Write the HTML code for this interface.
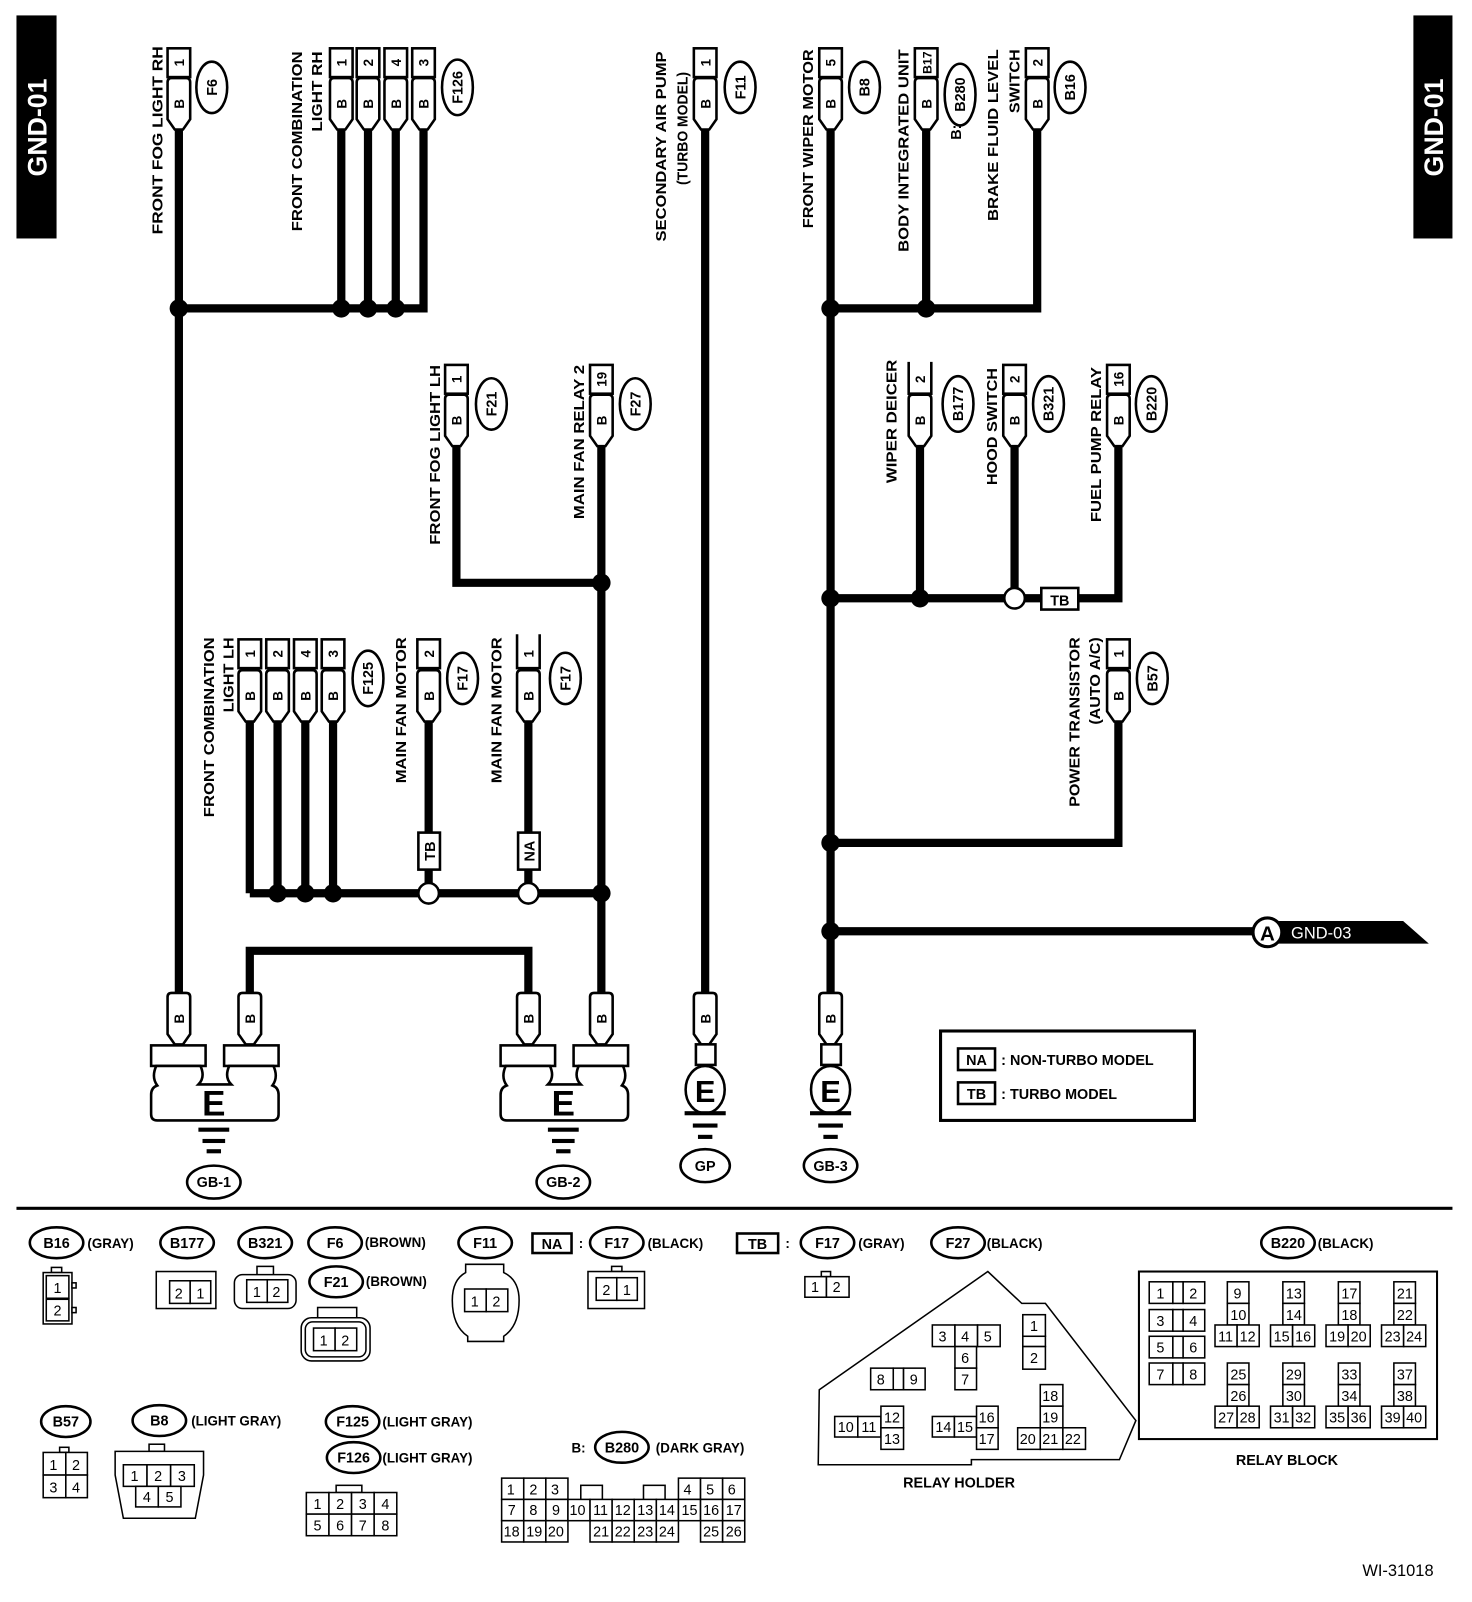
<!DOCTYPE html>
<html><head><meta charset="utf-8"><style>
html,body{margin:0;padding:0;background:#fff}
svg{display:block}
text{font-family:"Liberation Sans",Arial,sans-serif;font-weight:bold;fill:#000}
.w{fill:none;stroke:#000;stroke-width:8}
.o{fill:#fff;stroke:#000;stroke-width:2.5}
.t{fill:#fff;stroke:#000;stroke-width:1.5}
.c text{font-weight:normal;font-size:14px}
</style></head><body>
<svg width="1472" height="1602" viewBox="0 0 1432 1558.5" xmlns="http://www.w3.org/2000/svg">
<defs>
<path id="bc" d="M-11,4 Q-11,0 -7,0 H7 Q11,0 11,4 V40 L4,50 H-4 L-11,40 Z" fill="#fff" stroke="#000" stroke-width="2.5"/>
</defs>
<!-- GND-01 boxes -->
<rect x="16" y="15" width="39" height="217" fill="#000"/>
<text transform="translate(45,124) rotate(-90)" text-anchor="middle" font-size="26" style="fill:#fff">GND-01</text>
<rect x="1375" y="15" width="38" height="217" fill="#000"/>
<text transform="translate(1404,124) rotate(-90)" text-anchor="middle" font-size="26" style="fill:#fff">GND-01</text>

<!-- wires -->
<g class="w">
<path d="M174,125 V975"/>
<path d="M332,125 V300 M358,125 V300 M385,125 V300 M412,125 V300 H174"/>
<path d="M686,125 V975"/>
<path d="M808,125 V975"/>
<path d="M901,125 V300 M1009,125 V300 H808"/>
<path d="M444,432 V567 H585"/>
<path d="M585,432 V975"/>
<path d="M895,432 V582 M987,432 V582 M1088,432 V582 H808"/>
<path d="M1088,700 V820 H808"/>
<path d="M808,906 H1225"/>
<path d="M243,700 V869 M270,700 V869 M297,700 V869 M324,700 V869 M243,869 H585"/>
<path d="M417,700 V869 M514,700 V869"/>
<path d="M243,975 V925 H514 V975"/>
</g>
<!-- dots -->
<g fill="#000">
<circle cx="174" cy="300" r="9"/><circle cx="332" cy="300" r="9"/><circle cx="358" cy="300" r="9"/><circle cx="385" cy="300" r="9"/>
<circle cx="808" cy="300" r="9"/><circle cx="901" cy="300" r="9"/>
<circle cx="585" cy="567" r="9"/>
<circle cx="808" cy="582" r="9"/><circle cx="895" cy="582" r="9"/>
<circle cx="808" cy="820" r="9"/><circle cx="808" cy="906" r="9"/>
<circle cx="270" cy="869" r="9"/><circle cx="297" cy="869" r="9"/><circle cx="324" cy="869" r="9"/><circle cx="585" cy="869" r="9"/>
</g>
<circle cx="987" cy="582" r="10" class="o"/>
<circle cx="417" cy="869" r="10" class="o"/>
<circle cx="514" cy="869" r="10" class="o"/>
<rect x="1013" y="572" width="36" height="21" class="o"/><text x="1031" y="589" font-size="14" text-anchor="middle">TB</text>
<rect x="407" y="810" width="21" height="36" class="o"/><text transform="translate(423,828) rotate(-90)" font-size="14" text-anchor="middle">TB</text>
<rect x="504" y="810" width="21" height="36" class="o"/><text transform="translate(520,828) rotate(-90)" font-size="14" text-anchor="middle">NA</text>

<!-- top connectors: pin boxes -->
<g font-size="13" text-anchor="middle">
<!-- y 47-75 pins -->
<rect x="163" y="47" width="22" height="28" class="o"/><text transform="translate(179,61) rotate(-90)">1</text>
<rect x="321" y="47" width="22" height="28" class="o"/><text transform="translate(337,61) rotate(-90)">1</text>
<rect x="347" y="47" width="22" height="28" class="o"/><text transform="translate(363,61) rotate(-90)">2</text>
<rect x="374" y="47" width="22" height="28" class="o"/><text transform="translate(390,61) rotate(-90)">4</text>
<rect x="401" y="47" width="22" height="28" class="o"/><text transform="translate(417,61) rotate(-90)">3</text>
<rect x="675" y="47" width="22" height="28" class="o"/><text transform="translate(691,61) rotate(-90)">1</text>
<rect x="797" y="47" width="22" height="28" class="o"/><text transform="translate(813,61) rotate(-90)">5</text>
<rect x="890" y="47" width="22" height="28" class="o"/><text transform="translate(906,61) rotate(-90)" font-size="12">B17</text>
<rect x="998" y="47" width="22" height="28" class="o"/><text transform="translate(1014,61) rotate(-90)">2</text>
</g>
<g>
<use href="#bc" x="174" y="76"/><use href="#bc" x="332" y="76"/><use href="#bc" x="358" y="76"/><use href="#bc" x="385" y="76"/><use href="#bc" x="412" y="76"/>
<use href="#bc" x="686" y="76"/><use href="#bc" x="808" y="76"/><use href="#bc" x="901" y="76"/><use href="#bc" x="1009" y="76"/>
<use href="#bc" x="444" y="384"/><use href="#bc" x="585" y="384"/><use href="#bc" x="895" y="384"/><use href="#bc" x="987" y="384"/><use href="#bc" x="1088" y="384"/>
<use href="#bc" x="243" y="652"/><use href="#bc" x="270" y="652"/><use href="#bc" x="297" y="652"/><use href="#bc" x="324" y="652"/>
<use href="#bc" x="417" y="652"/><use href="#bc" x="514" y="652"/><use href="#bc" x="1088" y="652"/>
<use href="#bc" x="174" y="966"/><use href="#bc" x="243" y="966"/><use href="#bc" x="514" y="966"/><use href="#bc" x="585" y="966"/><use href="#bc" x="686" y="966"/><use href="#bc" x="808" y="966"/>
</g>
<g font-size="13" text-anchor="middle">
<text transform="translate(179,101) rotate(-90)">B</text><text transform="translate(337,101) rotate(-90)">B</text><text transform="translate(363,101) rotate(-90)">B</text><text transform="translate(390,101) rotate(-90)">B</text><text transform="translate(417,101) rotate(-90)">B</text>
<text transform="translate(691,101) rotate(-90)">B</text><text transform="translate(813,101) rotate(-90)">B</text><text transform="translate(906,101) rotate(-90)">B</text><text transform="translate(1014,101) rotate(-90)">B</text>
<text transform="translate(449,409) rotate(-90)">B</text><text transform="translate(590,409) rotate(-90)">B</text><text transform="translate(900,409) rotate(-90)">B</text><text transform="translate(992,409) rotate(-90)">B</text><text transform="translate(1093,409) rotate(-90)">B</text>
<text transform="translate(248,677) rotate(-90)">B</text><text transform="translate(275,677) rotate(-90)">B</text><text transform="translate(302,677) rotate(-90)">B</text><text transform="translate(329,677) rotate(-90)">B</text>
<text transform="translate(422,677) rotate(-90)">B</text><text transform="translate(519,677) rotate(-90)">B</text><text transform="translate(1093,677) rotate(-90)">B</text>
<text transform="translate(179,991) rotate(-90)">B</text><text transform="translate(248,991) rotate(-90)">B</text><text transform="translate(519,991) rotate(-90)">B</text><text transform="translate(590,991) rotate(-90)">B</text><text transform="translate(691,991) rotate(-90)">B</text><text transform="translate(813,991) rotate(-90)">B</text>
</g>
<!-- mid pins -->
<g font-size="13" text-anchor="middle">
<rect x="433" y="355" width="22" height="28" class="o"/><text transform="translate(449,369) rotate(-90)">1</text>
<rect x="574" y="355" width="22" height="28" class="o"/><text transform="translate(590,369) rotate(-90)">19</text>
<path d="M884,352 V383 H906 V352" class="o" style="fill:#fff"/><text transform="translate(900,369) rotate(-90)">2</text>
<rect x="976" y="355" width="22" height="28" class="o"/><text transform="translate(992,369) rotate(-90)">2</text>
<rect x="1077" y="355" width="22" height="28" class="o"/><text transform="translate(1093,369) rotate(-90)">16</text>
<rect x="232" y="622" width="22" height="28" class="o"/><text transform="translate(248,636) rotate(-90)">1</text>
<rect x="259" y="622" width="22" height="28" class="o"/><text transform="translate(275,636) rotate(-90)">2</text>
<rect x="286" y="622" width="22" height="28" class="o"/><text transform="translate(302,636) rotate(-90)">4</text>
<rect x="313" y="622" width="22" height="28" class="o"/><text transform="translate(329,636) rotate(-90)">3</text>
<rect x="406" y="622" width="22" height="28" class="o"/><text transform="translate(422,636) rotate(-90)">2</text>
<path d="M503,617 V650 H525 V617" class="o"/><text transform="translate(519,636) rotate(-90)">1</text>
<rect x="1077" y="622" width="22" height="28" class="o"/><text transform="translate(1093,636) rotate(-90)">1</text>
</g>
<!-- ovals -->
<g>
<ellipse cx="206" cy="85" rx="15" ry="25" class="o"/><ellipse cx="445" cy="85" rx="15" ry="27" class="o"/>
<ellipse cx="720" cy="85" rx="15" ry="25" class="o"/><ellipse cx="841" cy="85" rx="15" ry="25" class="o"/>
<ellipse cx="934" cy="92" rx="15" ry="30" class="o"/><ellipse cx="1041" cy="85" rx="15" ry="25" class="o"/>
<ellipse cx="478" cy="393" rx="15" ry="25" class="o"/><ellipse cx="618" cy="393" rx="15" ry="25" class="o"/>
<ellipse cx="932" cy="393" rx="15" ry="27" class="o"/><ellipse cx="1020" cy="393" rx="15" ry="27" class="o"/><ellipse cx="1120" cy="393" rx="15" ry="27" class="o"/>
<ellipse cx="358" cy="660" rx="15" ry="27" class="o"/><ellipse cx="450" cy="660" rx="15" ry="25" class="o"/><ellipse cx="550" cy="660" rx="15" ry="25" class="o"/>
<ellipse cx="1121" cy="660" rx="15" ry="25" class="o"/>
</g>
<g font-size="14" text-anchor="middle">
<text transform="translate(211,85) rotate(-90)">F6</text><text transform="translate(450,85) rotate(-90)">F126</text>
<text transform="translate(725,85) rotate(-90)">F11</text><text transform="translate(846,85) rotate(-90)">B8</text>
<text transform="translate(939,92) rotate(-90)">B280</text><text transform="translate(1046,85) rotate(-90)">B16</text>
<text transform="translate(483,393) rotate(-90)">F21</text><text transform="translate(623,393) rotate(-90)">F27</text>
<text transform="translate(937,393) rotate(-90)">B177</text><text transform="translate(1025,393) rotate(-90)">B321</text><text transform="translate(1125,393) rotate(-90)">B220</text>
<text transform="translate(363,660) rotate(-90)">F125</text><text transform="translate(455,660) rotate(-90)">F17</text><text transform="translate(555,660) rotate(-90)">F17</text>
<text transform="translate(1126,660) rotate(-90)">B57</text>
</g>
<!-- rotated labels -->
<g font-size="14">
<text transform="translate(158,228) rotate(-90)" textLength="183" lengthAdjust="spacingAndGlyphs">FRONT FOG LIGHT RH</text>
<text transform="translate(294,225) rotate(-90)" textLength="175" lengthAdjust="spacingAndGlyphs">FRONT COMBINATION</text>
<text transform="translate(313,128) rotate(-90)" textLength="78" lengthAdjust="spacingAndGlyphs">LIGHT RH</text>
<text transform="translate(648,235) rotate(-90)" textLength="185" lengthAdjust="spacingAndGlyphs">SECONDARY AIR PUMP</text>
<text transform="translate(669,180) rotate(-90)" textLength="110" lengthAdjust="spacingAndGlyphs">(TURBO MODEL)</text>
<text transform="translate(791,222) rotate(-90)" textLength="174" lengthAdjust="spacingAndGlyphs">FRONT WIPER MOTOR</text>
<text transform="translate(884,245) rotate(-90)" textLength="197" lengthAdjust="spacingAndGlyphs">BODY INTEGRATED UNIT</text>
<text transform="translate(935,136) rotate(-90)">B:</text>
<text transform="translate(971,215) rotate(-90)" textLength="167" lengthAdjust="spacingAndGlyphs">BRAKE FLUID LEVEL</text>
<text transform="translate(992,110) rotate(-90)" textLength="62" lengthAdjust="spacingAndGlyphs">SWITCH</text>
<text transform="translate(428,530) rotate(-90)" textLength="175" lengthAdjust="spacingAndGlyphs">FRONT FOG LIGHT LH</text>
<text transform="translate(568,505) rotate(-90)" textLength="150" lengthAdjust="spacingAndGlyphs">MAIN FAN RELAY 2</text>
<text transform="translate(872,470) rotate(-90)" textLength="120" lengthAdjust="spacingAndGlyphs">WIPER DEICER</text>
<text transform="translate(970,472) rotate(-90)" textLength="114" lengthAdjust="spacingAndGlyphs">HOOD SWITCH</text>
<text transform="translate(1071,508) rotate(-90)" textLength="151" lengthAdjust="spacingAndGlyphs">FUEL PUMP RELAY</text>
<text transform="translate(208,795) rotate(-90)" textLength="175" lengthAdjust="spacingAndGlyphs">FRONT COMBINATION</text>
<text transform="translate(227,693) rotate(-90)" textLength="73" lengthAdjust="spacingAndGlyphs">LIGHT LH</text>
<text transform="translate(395,762) rotate(-90)" textLength="142" lengthAdjust="spacingAndGlyphs">MAIN FAN MOTOR</text>
<text transform="translate(488,762) rotate(-90)" textLength="142" lengthAdjust="spacingAndGlyphs">MAIN FAN MOTOR</text>
<text transform="translate(1050,785) rotate(-90)" textLength="165" lengthAdjust="spacingAndGlyphs">POWER TRANSISTOR</text>
<text transform="translate(1070,705) rotate(-90)" textLength="85" lengthAdjust="spacingAndGlyphs">(AUTO A/C)</text>
</g>

<!-- GND-03 arrow -->
<path d="M1240,896 H1365 L1390,918 H1240 Z" fill="#000"/>
<circle cx="1233" cy="907" r="14" fill="#fff" stroke="#000" stroke-width="3"/>
<text x="1233" y="915" font-size="20" text-anchor="middle">A</text>
<text x="1256" y="913" font-size="16" style="fill:#fff;font-weight:normal">GND-03</text>

<!-- ground blocks -->
<g fill="#fff" stroke="#000" stroke-width="2.5">
<rect x="147" y="1017" width="53" height="20"/><rect x="218" y="1017" width="53" height="20"/>
<path d="M152,1037 Q147,1048 153,1056 Q147,1058 147,1065 V1084 Q147,1090 153,1090 H265 Q271,1090 271,1084 V1065 Q271,1058 265,1056 Q271,1048 266,1037 H223 Q218,1048 225,1055 H193 Q200,1048 195,1037 Z"/>
<rect x="487" y="1017" width="53" height="20"/><rect x="558" y="1017" width="53" height="20"/>
<path d="M492,1037 Q487,1048 493,1056 Q487,1058 487,1065 V1084 Q487,1090 493,1090 H605 Q611,1090 611,1084 V1065 Q611,1058 605,1056 Q611,1048 606,1037 H563 Q558,1048 565,1055 H533 Q540,1048 535,1037 Z"/>
<rect x="677" y="1016" width="19" height="20"/><ellipse cx="686" cy="1060" rx="19" ry="23"/>
<rect x="799" y="1016" width="19" height="20"/><ellipse cx="808" cy="1060" rx="19" ry="23"/>
</g>
<g font-size="34" text-anchor="middle">
<text x="208" y="1085">E</text><text x="548" y="1085">E</text>
<text x="686" y="1072" font-size="30">E</text><text x="808" y="1072" font-size="30">E</text>
</g>
<g fill="#000">
<rect x="193" y="1097" width="30" height="4"/><rect x="197" y="1108" width="22" height="4"/><rect x="201" y="1118" width="14" height="4"/>
<rect x="533" y="1097" width="30" height="4"/><rect x="537" y="1108" width="22" height="4"/><rect x="541" y="1118" width="14" height="4"/>
<rect x="666" y="1081" width="40" height="4"/><rect x="674" y="1093" width="24" height="4"/><rect x="679" y="1104" width="14" height="4"/>
<rect x="788" y="1081" width="40" height="4"/><rect x="796" y="1093" width="24" height="4"/><rect x="801" y="1104" width="14" height="4"/>
</g>
<g>
<ellipse cx="208" cy="1150" rx="26" ry="16" class="o"/><ellipse cx="548" cy="1150" rx="26" ry="16" class="o"/>
<ellipse cx="686" cy="1134" rx="24" ry="16" class="o"/><ellipse cx="808" cy="1134" rx="26" ry="16" class="o"/>
</g>
<g font-size="14" text-anchor="middle">
<text x="208" y="1155">GB-1</text><text x="548" y="1155">GB-2</text><text x="686" y="1139">GP</text><text x="808" y="1139">GB-3</text>
</g>

<!-- legend box -->
<rect x="915" y="1003" width="247" height="87" fill="#fff" stroke="#000" stroke-width="3"/>
<rect x="932" y="1020" width="36" height="21" class="o"/><text x="950" y="1036" font-size="14" text-anchor="middle">NA</text>
<text x="974" y="1036" font-size="14">: NON-TURBO MODEL</text>
<rect x="932" y="1053" width="36" height="21" class="o"/><text x="950" y="1069" font-size="14" text-anchor="middle">TB</text>
<text x="974" y="1069" font-size="14">: TURBO MODEL</text>

<!-- separator -->
<rect x="16" y="1174" width="1397" height="3" fill="#000"/>

<!-- bottom legend ovals -->
<g>
<ellipse cx="55" cy="1209" rx="26" ry="15" class="o"/><ellipse cx="182" cy="1209" rx="26" ry="15" class="o"/><ellipse cx="258" cy="1209" rx="26" ry="15" class="o"/>
<ellipse cx="326" cy="1209" rx="26" ry="15" class="o"/><ellipse cx="472" cy="1209" rx="26" ry="15" class="o"/><ellipse cx="600" cy="1209" rx="26" ry="15" class="o"/>
<ellipse cx="805" cy="1209" rx="26" ry="15" class="o"/><ellipse cx="932" cy="1209" rx="26" ry="15" class="o"/><ellipse cx="1253" cy="1209" rx="26" ry="15" class="o"/>
<ellipse cx="327" cy="1247" rx="26" ry="15" class="o"/>
<ellipse cx="64" cy="1383" rx="24" ry="15" class="o"/><ellipse cx="155" cy="1382" rx="26" ry="15" class="o"/>
<ellipse cx="343" cy="1383" rx="26" ry="15" class="o"/><ellipse cx="344" cy="1418" rx="26" ry="15" class="o"/><ellipse cx="605" cy="1408" rx="26" ry="15" class="o"/>
</g>
<g font-size="14" text-anchor="middle">
<text x="55" y="1214">B16</text><text x="182" y="1214">B177</text><text x="258" y="1214">B321</text><text x="326" y="1214">F6</text>
<text x="472" y="1214">F11</text><text x="600" y="1214">F17</text><text x="805" y="1214">F17</text><text x="932" y="1214">F27</text>
<text x="1253" y="1214">B220</text><text x="327" y="1252">F21</text>
<text x="64" y="1388">B57</text><text x="155" y="1387">B8</text><text x="343" y="1388">F125</text><text x="344" y="1423">F126</text><text x="605" y="1413">B280</text>
</g>
<g font-size="13">
<text x="85" y="1214">(GRAY)</text><text x="355" y="1213">(BROWN)</text><text x="356" y="1251">(BROWN)</text>
<text x="630" y="1214">(BLACK)</text><text x="835" y="1214">(GRAY)</text><text x="960" y="1214">(BLACK)</text><text x="1282" y="1214">(BLACK)</text>
<text x="186" y="1387">(LIGHT GRAY)</text><text x="372" y="1388">(LIGHT GRAY)</text><text x="372" y="1423">(LIGHT GRAY)</text>
<text x="556" y="1413">B:</text><text x="638" y="1413">(DARK GRAY)</text>
<text x="563" y="1214">:</text><text x="764" y="1214">:</text>
</g>
<rect x="518" y="1200" width="38" height="19" class="o"/><text x="537" y="1215" font-size="14" text-anchor="middle">NA</text>
<rect x="717" y="1200" width="40" height="19" class="o"/><text x="737" y="1215" font-size="14" text-anchor="middle">TB</text>

<!-- small connectors -->
<g class="c">
<!-- B16 -->
<rect x="50" y="1233" width="10" height="5" class="t"/>
<rect x="42" y="1238" width="28" height="50" class="t"/>
<rect x="45" y="1241" width="22" height="22" class="t"/><text x="52" y="1258">1</text>
<rect x="45" y="1264" width="22" height="21" class="t"/><text x="52" y="1280">2</text>
<rect x="70" y="1248" width="4" height="5" class="t"/><rect x="70" y="1272" width="4" height="5" class="t"/>
<!-- B177 -->
<rect x="152" y="1237" width="58" height="36" class="t"/>
<rect x="165" y="1246" width="20" height="22" class="t"/><text x="170" y="1263">2</text>
<rect x="185" y="1246" width="20" height="22" class="t"/><text x="191" y="1263">1</text>
<!-- B321 -->
<rect x="250" y="1232" width="16" height="10" class="t"/>
<rect x="228" y="1240" width="60" height="33" rx="8" class="t"/>
<rect x="240" y="1245" width="20" height="22" class="t"/><text x="246" y="1262">1</text>
<rect x="260" y="1245" width="20" height="22" class="t"/><text x="265" y="1262">2</text>
<!-- F21 -->
<rect x="309" y="1272" width="38" height="12" class="t"/>
<rect x="293" y="1282" width="67" height="42" rx="10" class="t"/>
<rect x="297" y="1286" width="59" height="34" rx="7" class="t"/>
<rect x="305" y="1292" width="21" height="22" class="t"/><text x="311" y="1309">1</text>
<rect x="326" y="1292" width="21" height="22" class="t"/><text x="332" y="1309">2</text>
<!-- F11 -->
<path d="M453,1230 H490 V1238 Q505,1245 505,1265 Q505,1290 490,1300 V1305 H455 V1300 Q440,1290 440,1265 Q440,1245 453,1238 Z" class="t"/>
<rect x="452" y="1254" width="21" height="22" class="t"/><text x="458" y="1271">1</text>
<rect x="473" y="1254" width="21" height="22" class="t"/><text x="479" y="1271">2</text>
<!-- F17 black -->
<rect x="595" y="1232" width="10" height="5" class="t"/>
<rect x="572" y="1237" width="55" height="36" class="t"/>
<rect x="580" y="1243" width="20" height="22" class="t"/><text x="586" y="1260">2</text>
<rect x="600" y="1243" width="20" height="22" class="t"/><text x="606" y="1260">1</text>
<!-- F17 gray -->
<rect x="799" y="1237" width="9" height="5" class="t"/>
<rect x="783" y="1242" width="21" height="20" class="t"/><text x="789" y="1257">1</text>
<rect x="804" y="1242" width="22" height="20" class="t"/><text x="810" y="1257">2</text>
<!-- B57 -->
<rect x="58" y="1408" width="9" height="5" class="t"/>
<rect x="42" y="1413" width="22" height="22" class="t"/><text x="48" y="1430">1</text>
<rect x="64" y="1413" width="21" height="22" class="t"/><text x="70" y="1430">2</text>
<rect x="42" y="1435" width="22" height="22" class="t"/><text x="48" y="1452">3</text>
<rect x="64" y="1435" width="21" height="22" class="t"/><text x="70" y="1452">4</text>
<!-- B8 -->
<rect x="145" y="1405" width="15" height="7" class="t"/>
<path d="M112,1412 H198 V1435 L190,1477 H120 L112,1435 Z" class="t"/>
<rect x="120" y="1425" width="23" height="21" class="t"/><text x="127" y="1441">1</text>
<rect x="143" y="1425" width="23" height="21" class="t"/><text x="150" y="1441">2</text>
<rect x="166" y="1425" width="23" height="21" class="t"/><text x="173" y="1441">3</text>
<rect x="132" y="1446" width="22" height="20" class="t"/><text x="139" y="1461">4</text>
<rect x="154" y="1446" width="22" height="20" class="t"/><text x="161" y="1461">5</text>
<!-- F126 -->
<rect x="327" y="1445" width="25" height="7" class="t"/>
<rect x="298" y="1452" width="22" height="21" class="t"/><text x="305" y="1468">1</text>
<rect x="320" y="1452" width="22" height="21" class="t"/><text x="327" y="1468">2</text>
<rect x="342" y="1452" width="22" height="21" class="t"/><text x="349" y="1468">3</text>
<rect x="364" y="1452" width="22" height="21" class="t"/><text x="371" y="1468">4</text>
<rect x="298" y="1473" width="22" height="21" class="t"/><text x="305" y="1489">5</text>
<rect x="320" y="1473" width="22" height="21" class="t"/><text x="327" y="1489">6</text>
<rect x="342" y="1473" width="22" height="21" class="t"/><text x="349" y="1489">7</text>
<rect x="364" y="1473" width="22" height="21" class="t"/><text x="371" y="1489">8</text>
</g>
<!-- B280 grid -->
<g class="c" font-size="13">
<rect x="565" y="1445" width="21" height="14" class="t"/><rect x="626" y="1445" width="21" height="14" class="t"/>
<rect x="488" y="1438" width="21.5" height="20.7" class="t"/><text x="493" y="1454">1</text>
<rect x="509.5" y="1438" width="21.5" height="20.7" class="t"/><text x="515" y="1454">2</text>
<rect x="531" y="1438" width="21.5" height="20.7" class="t"/><text x="536" y="1454">3</text>
<rect x="660" y="1438" width="21.5" height="20.7" class="t"/><text x="665" y="1454">4</text>
<rect x="681.5" y="1438" width="21.5" height="20.7" class="t"/><text x="687" y="1454">5</text>
<rect x="703" y="1438" width="21.5" height="20.7" class="t"/><text x="708" y="1454">6</text>
<rect x="488" y="1458.7" width="21.5" height="20.7" class="t"/><text x="494" y="1474">7</text>
<rect x="509.5" y="1458.7" width="21.5" height="20.7" class="t"/><text x="515" y="1474">8</text>
<rect x="531" y="1458.7" width="21.5" height="20.7" class="t"/><text x="537" y="1474">9</text>
<rect x="552.5" y="1458.7" width="21.5" height="20.7" class="t"/><text x="554" y="1474">10</text>
<rect x="574" y="1458.7" width="21.5" height="20.7" class="t"/><text x="577" y="1474">11</text>
<rect x="595.5" y="1458.7" width="21.5" height="20.7" class="t"/><text x="598" y="1474">12</text>
<rect x="617" y="1458.7" width="21.5" height="20.7" class="t"/><text x="620" y="1474">13</text>
<rect x="638.5" y="1458.7" width="21.5" height="20.7" class="t"/><text x="641" y="1474">14</text>
<rect x="660" y="1458.7" width="21.5" height="20.7" class="t"/><text x="663" y="1474">15</text>
<rect x="681.5" y="1458.7" width="21.5" height="20.7" class="t"/><text x="684" y="1474">16</text>
<rect x="703" y="1458.7" width="21.5" height="20.7" class="t"/><text x="706" y="1474">17</text>
<rect x="488" y="1479.4" width="21.5" height="20.7" class="t"/><text x="490" y="1495">18</text>
<rect x="509.5" y="1479.4" width="21.5" height="20.7" class="t"/><text x="512" y="1495">19</text>
<rect x="531" y="1479.4" width="21.5" height="20.7" class="t"/><text x="533" y="1495">20</text>
<rect x="574" y="1479.4" width="21.5" height="20.7" class="t"/><text x="577" y="1495">21</text>
<rect x="595.5" y="1479.4" width="21.5" height="20.7" class="t"/><text x="598" y="1495">22</text>
<rect x="617" y="1479.4" width="21.5" height="20.7" class="t"/><text x="620" y="1495">23</text>
<rect x="638.5" y="1479.4" width="21.5" height="20.7" class="t"/><text x="641" y="1495">24</text>
<rect x="681.5" y="1479.4" width="21.5" height="20.7" class="t"/><text x="684" y="1495">25</text>
<rect x="703" y="1479.4" width="21.5" height="20.7" class="t"/><text x="706" y="1495">26</text>
</g>

<!-- relay holder -->
<path d="M797,1352 L961,1237 L994,1268 H1017 L1105,1382 L1089,1420 H945 V1425 H796 Z" fill="none" stroke="#000" stroke-width="1.5"/>
<g class="c" font-size="14">
<rect x="907" y="1289" width="22" height="21" class="t"/><text x="913" y="1305">3</text>
<rect x="929" y="1289" width="22" height="21" class="t"/><text x="935" y="1305">4</text>
<rect x="951" y="1289" width="22" height="21" class="t"/><text x="957" y="1305">5</text>
<rect x="929" y="1310" width="21" height="21" class="t"/><text x="935" y="1326">6</text>
<rect x="929" y="1331" width="21" height="21" class="t"/><text x="935" y="1347">7</text>
<rect x="995" y="1279" width="22" height="21" class="t"/><text x="1002" y="1295">1</text>
<rect x="995" y="1300" width="22" height="10" class="t"/>
<rect x="995" y="1310" width="22" height="22" class="t"/><text x="1002" y="1326">2</text>
<rect x="847" y="1331" width="22" height="21" class="t"/><text x="853" y="1347">8</text>
<rect x="869" y="1331" width="10" height="21" class="t"/>
<rect x="879" y="1331" width="21" height="21" class="t"/><text x="885" y="1347">9</text>
<rect x="812" y="1378" width="22.5" height="20" class="t"/><text x="815" y="1393">10</text>
<rect x="834.5" y="1378" width="22.5" height="20" class="t"/><text x="838" y="1393">11</text>
<rect x="857" y="1368" width="22" height="21" class="t"/><text x="860" y="1384">12</text>
<rect x="857" y="1389" width="22" height="21" class="t"/><text x="860" y="1405">13</text>
<rect x="907" y="1378" width="21.5" height="20" class="t"/><text x="910" y="1393">14</text>
<rect x="928.5" y="1378" width="21.5" height="20" class="t"/><text x="931" y="1393">15</text>
<rect x="950" y="1368" width="21" height="21" class="t"/><text x="952" y="1384">16</text>
<rect x="950" y="1389" width="21" height="21" class="t"/><text x="952" y="1405">17</text>
<rect x="1012" y="1347" width="22" height="21" class="t"/><text x="1014" y="1363">18</text>
<rect x="1012" y="1368" width="22" height="21" class="t"/><text x="1014" y="1384">19</text>
<rect x="990" y="1389" width="22" height="21" class="t"/><text x="992" y="1405">20</text>
<rect x="1012" y="1389" width="22" height="21" class="t"/><text x="1014" y="1405">21</text>
<rect x="1034" y="1389" width="22" height="21" class="t"/><text x="1036" y="1405">22</text>
</g>
<text x="933" y="1447" font-size="14" text-anchor="middle">RELAY HOLDER</text>

<!-- relay block -->
<rect x="1108" y="1237" width="290" height="163" fill="none" stroke="#000" stroke-width="2"/>
<g class="c" font-size="14">
<rect x="1118" y="1247" width="23" height="21" class="t"/><rect x="1141" y="1247" width="10" height="21" class="t"/><rect x="1151" y="1247" width="21" height="21" class="t"/><text x="1125" y="1263">1</text><text x="1157" y="1263">2</text>
<rect x="1118" y="1274" width="23" height="21" class="t"/><rect x="1141" y="1274" width="10" height="21" class="t"/><rect x="1151" y="1274" width="21" height="21" class="t"/><text x="1125" y="1290">3</text><text x="1157" y="1290">4</text>
<rect x="1118" y="1300" width="23" height="21" class="t"/><rect x="1141" y="1300" width="10" height="21" class="t"/><rect x="1151" y="1300" width="21" height="21" class="t"/><text x="1125" y="1316">5</text><text x="1157" y="1316">6</text>
<rect x="1118" y="1326" width="23" height="21" class="t"/><rect x="1141" y="1326" width="10" height="21" class="t"/><rect x="1151" y="1326" width="21" height="21" class="t"/><text x="1125" y="1342">7</text><text x="1157" y="1342">8</text>
</g>
<g class="c" font-size="13">
<!-- upper groups -->
<rect x="1194" y="1247" width="21" height="21" class="t"/><rect x="1194" y="1268" width="21" height="21" class="t"/><rect x="1182" y="1289" width="21.5" height="21" class="t"/><rect x="1203.5" y="1289" width="21.5" height="21" class="t"/>
<text x="1200" y="1263">9</text><text x="1197" y="1284">10</text><text x="1185" y="1305">11</text><text x="1206" y="1305">12</text>
<rect x="1248" y="1247" width="21" height="21" class="t"/><rect x="1248" y="1268" width="21" height="21" class="t"/><rect x="1236" y="1289" width="21.5" height="21" class="t"/><rect x="1257.5" y="1289" width="21.5" height="21" class="t"/>
<text x="1251" y="1263">13</text><text x="1251" y="1284">14</text><text x="1239" y="1305">15</text><text x="1260" y="1305">16</text>
<rect x="1302" y="1247" width="21" height="21" class="t"/><rect x="1302" y="1268" width="21" height="21" class="t"/><rect x="1290" y="1289" width="21.5" height="21" class="t"/><rect x="1311.5" y="1289" width="21.5" height="21" class="t"/>
<text x="1305" y="1263">17</text><text x="1305" y="1284">18</text><text x="1293" y="1305">19</text><text x="1314" y="1305">20</text>
<rect x="1356" y="1247" width="21" height="21" class="t"/><rect x="1356" y="1268" width="21" height="21" class="t"/><rect x="1344" y="1289" width="21.5" height="21" class="t"/><rect x="1365.5" y="1289" width="21.5" height="21" class="t"/>
<text x="1359" y="1263">21</text><text x="1359" y="1284">22</text><text x="1347" y="1305">23</text><text x="1368" y="1305">24</text>
<!-- lower groups -->
<rect x="1194" y="1326" width="21" height="21" class="t"/><rect x="1194" y="1347" width="21" height="21" class="t"/><rect x="1182" y="1368" width="21.5" height="21" class="t"/><rect x="1203.5" y="1368" width="21.5" height="21" class="t"/>
<text x="1197" y="1342">25</text><text x="1197" y="1363">26</text><text x="1185" y="1384">27</text><text x="1206" y="1384">28</text>
<rect x="1248" y="1326" width="21" height="21" class="t"/><rect x="1248" y="1347" width="21" height="21" class="t"/><rect x="1236" y="1368" width="21.5" height="21" class="t"/><rect x="1257.5" y="1368" width="21.5" height="21" class="t"/>
<text x="1251" y="1342">29</text><text x="1251" y="1363">30</text><text x="1239" y="1384">31</text><text x="1260" y="1384">32</text>
<rect x="1302" y="1326" width="21" height="21" class="t"/><rect x="1302" y="1347" width="21" height="21" class="t"/><rect x="1290" y="1368" width="21.5" height="21" class="t"/><rect x="1311.5" y="1368" width="21.5" height="21" class="t"/>
<text x="1305" y="1342">33</text><text x="1305" y="1363">34</text><text x="1293" y="1384">35</text><text x="1314" y="1384">36</text>
<rect x="1356" y="1326" width="21" height="21" class="t"/><rect x="1356" y="1347" width="21" height="21" class="t"/><rect x="1344" y="1368" width="21.5" height="21" class="t"/><rect x="1365.5" y="1368" width="21.5" height="21" class="t"/>
<text x="1359" y="1342">37</text><text x="1359" y="1363">38</text><text x="1347" y="1384">39</text><text x="1368" y="1384">40</text>
</g>
<text x="1252" y="1425" font-size="14" text-anchor="middle">RELAY BLOCK</text>

<text x="1360" y="1533" font-size="16" text-anchor="middle" style="font-weight:normal">WI-31018</text>
</svg>
</body></html>
